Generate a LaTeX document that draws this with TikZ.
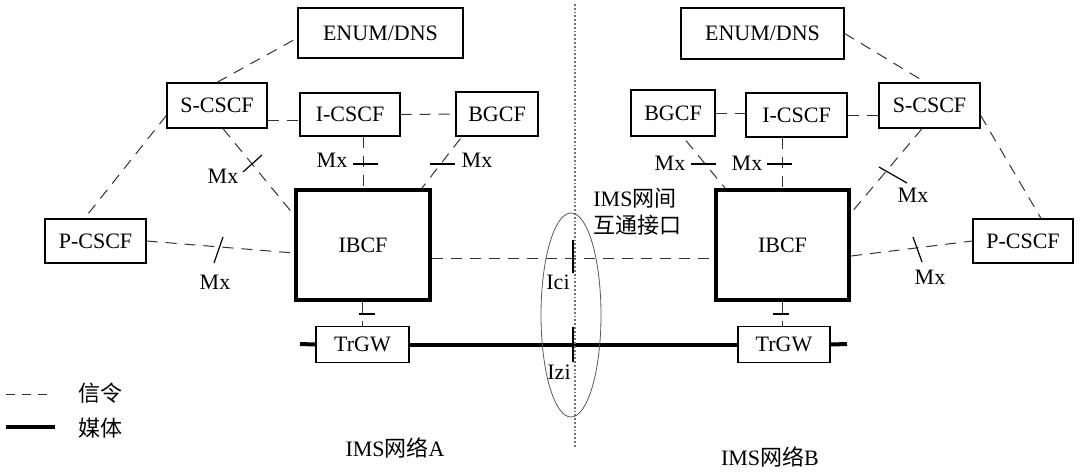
\documentclass[tikz,border=0pt]{standalone}
\usepackage{fontspec}
\setmainfont{Liberation Serif}
\newfontfamily\cjk{Noto Sans CJK SC}
\usetikzlibrary{calc,shapes.geometric}

\begin{document}
\begin{tikzpicture}[x=0.5pt,y=-0.5pt,
    every node/.style={font=\fontsize{11}{13.5}\selectfont},
    box/.style={draw,line width=0.65pt,fill=white,inner sep=0pt},
    gw/.style={box,line width=2pt},
    sig/.style={line width=0.5pt,black!80,dash pattern=on 5.5pt off 4pt},
    media/.style={line width=2pt},
    mxt/.style={line width=0.6pt}]
    \useasboundingbox (0,0) rectangle (1080,472);
    % network A
    \node[box,minimum width=82.5pt,minimum height=25pt] (enumA) at (380.5,33) {ENUM/DNS};
    \node[box,minimum width=50pt,minimum height=22.5pt] (scscfA) at (217,105.5) {S-CSCF};
    \node[box,minimum width=50pt,minimum height=21.5pt] (icscfA) at (350,114.5) {I-CSCF};
    \node[box,minimum width=41pt,minimum height=22pt] (bgcfA) at (497,114) {BGCF};
    \node[box,minimum width=50.5pt,minimum height=22pt] (pcscfA) at (95.5,241) {P-CSCF};
    \node[gw,minimum width=67pt,minimum height=55pt] (ibcfA) at (363,245) {IBCF};
    \node[box,minimum width=46.5pt,minimum height=18pt] (trgwA) at (362.5,344.5) {TrGW};
    % network B
    \node[box,minimum width=81.5pt,minimum height=25.5pt] (enumB) at (762.5,33.5) {ENUM/DNS};
    \node[box,minimum width=42pt,minimum height=23pt] (bgcfB) at (673,113) {BGCF};
    \node[box,minimum width=50.5pt,minimum height=22pt] (icscfB) at (796.5,115) {I-CSCF};
    \node[box,minimum width=50.5pt,minimum height=22.5pt] (scscfB) at (929.5,105.5) {S-CSCF};
    \node[box,minimum width=50pt,minimum height=22pt] (pcscfB) at (1023,241) {P-CSCF};
    \node[gw,minimum width=66.5pt,minimum height=55pt] (ibcfB) at (782.5,245) {IBCF};
    \node[box,minimum width=46pt,minimum height=18pt] (trgwB) at (784,344.5) {TrGW};

    % signalling A
    \draw[sig] (scscfA.north) -- ($(enumA.west)+(0,5)$);
    \draw[sig] ($(scscfA.west)+(0,10)$) -- ($(pcscfA.north)+(-11,0)$);
    \draw[sig] ($(scscfA.east)+(0,14.5)$) -- ($(icscfA.west)+(0,5.5)$);
    \draw[sig] (icscfA.east) -- (bgcfA.west);
    \draw[sig] ($(scscfA.south)+(6,0)$) -- ($(ibcfA.north west)+(0,27)$);
    \draw[sig] (ibcfA.north |- icscfA.south) -- (ibcfA.north);
    \draw[sig] ($(bgcfA.south west)+(5,2)$) -- ($(ibcfA.north east)+(-10,0)$);
    \draw[sig] (pcscfA.east) -- ($(ibcfA.west)+(0,8)$);
    \draw[sig] (trgwA.north |- ibcfA.south) -- (trgwA.north);
    \draw[sig] ($(ibcfA.east)+(0,13)$) -- ($(ibcfB.west)+(0,13)$);
    % signalling B
    \draw[sig] (enumB.east) -- ($(scscfB.north)+(-4,0)$);
    \draw[sig] ($(scscfB.east)+(0,10)$) -- ($(pcscfB.north)+(18,0)$);
    \draw[sig] (bgcfB.east) -- (bgcfB.east -| icscfB.west);
    \draw[sig] (icscfB.east) -- (icscfB.east -| scscfB.west);
    \draw[sig] ($(bgcfB.south)+(13,4)$) -- ($(ibcfB.north west)+(11,0)$);
    \draw[sig] (ibcfB.north |- icscfB.south) -- (ibcfB.north);
    \draw[sig] ($(scscfB.south)+(-7.5,0)$) -- ($(ibcfB.north east)+(0,25)$);
    \draw[sig] ($(ibcfB.east)+(0,11)$) -- (pcscfB.west);
    \draw[sig] (ibcfB.south) -- (ibcfB.south |- trgwB.north);

    % media
    \coordinate (medA) at (300,344);
    \coordinate (medB) at (847,344);
    \draw[media] (medA) -- (trgwA.west);
    \draw[media] (trgwA.east) -- (trgwB.west);
    \draw[media] (trgwB.east) -- (medB);

    % Mx ticks
    \draw[mxt] (243,172) -- (262,155);
    \draw[mxt] (353,164) -- (378,164);
    \draw[mxt] (430,164) -- (455,164);
    \draw[mxt] (214,263) -- (223,237);
    \draw[mxt] (359,314) -- (375,314);
    \draw[mxt] (691,164) -- (716,164);
    \draw[mxt] (767,164) -- (792,164);
    \draw[mxt] (879,167) -- (907,183);
    \draw[mxt] (913,237) -- (922,262);
    \draw[mxt] (773,314) -- (789,314);
    \node (mxA1) at (223,176) {Mx};
    \node (mxA2) at (332,160) {Mx};
    \node (mxA3) at (477,160) {Mx};
    \node (mxA4) at (215,282) {Mx};
    \node (mxB1) at (670,163) {Mx};
    \node (mxB2) at (747,163) {Mx};
    \node (mxB3) at (913,195) {Mx};
    \node (mxB4) at (930,277) {Mx};

    % interface
    \coordinate (divT) at (575,4);
    \coordinate (divB) at (575,448);
    \draw[black!55,line width=0.9pt,dash pattern=on 0.9pt off 1pt] (divT) -- (divB);
    \node[draw=black!65,ellipse,line width=0.4pt,minimum width=30pt,minimum height=102pt,inner sep=0pt] (itf) at (571,315) {};
    \draw[mxt] (573,240) -- (573,273);
    \draw[mxt] (573,327) -- (573,362);
    \node (ici) at (558,282) {Ici};
    \node (izi) at (559,372) {Izi};
    \node[align=left,anchor=west,inner sep=0pt] (itfl) at (593,211.5) {IMS{\cjk 网间}\\{\cjk 互通接口}};

    % legend
    \coordinate (sigL) at (6,394);
    \coordinate (sigR) at (52,394);
    \draw[sig,dash pattern=on 4.5pt off 3.5pt] (sigL) -- (sigR);
    \node (sigtxt) at (100,393) {{\cjk 信令}};
    \coordinate (medL) at (6,427);
    \coordinate (medR) at (55,427);
    \draw[media] (medL) -- (medR);
    \node (medtxt) at (100,428) {{\cjk 媒体}};

    \node (netA) at (395,448) {IMS{\cjk 网络}A};
    \node (netB) at (770,457) {IMS{\cjk 网络}B};
\end{tikzpicture}
\end{document}
